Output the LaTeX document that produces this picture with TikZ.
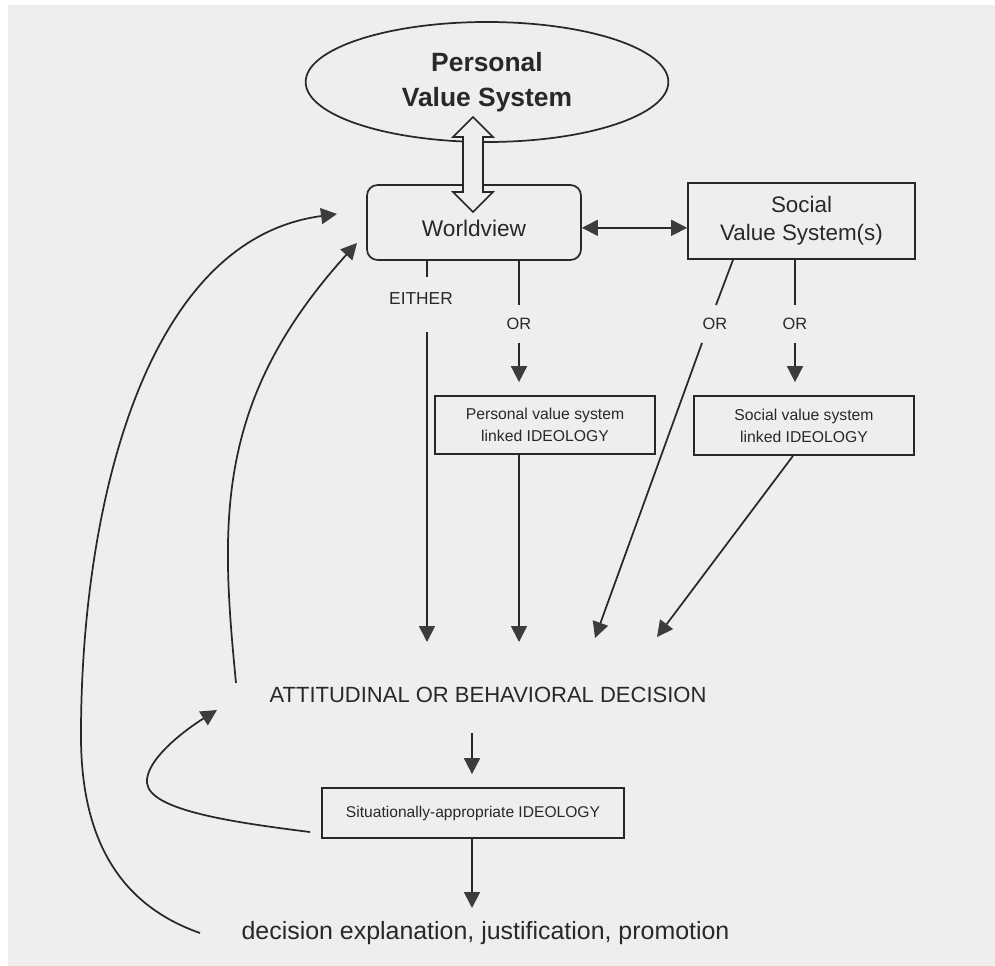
\documentclass[tikz,border=0pt]{standalone}
\usepackage{fontspec}
\setmainfont{Liberation Sans}
\usetikzlibrary{shapes.geometric,arrows.meta}
\definecolor{bg}{RGB}{238,238,238}
\definecolor{ink}{RGB}{40,40,40}
\definecolor{tipc}{RGB}{60,60,60}
\begin{document}
\begin{tikzpicture}[x=0.75pt,y=-0.75pt,
  conn/.style={draw=ink, line width=1.3pt},
  arr/.style={conn, -{Triangle[length=12pt,width=12pt,color=tipc,fill=tipc]}},
  darr/.style={conn, {Triangle[length=12pt,width=12pt,color=tipc,fill=tipc]}-{Triangle[length=12pt,width=12pt,color=tipc,fill=tipc]}},
  box/.style={draw=ink, line width=1.3pt, inner sep=0pt, align=center, text=ink},
  lbl/.style={inner sep=0pt, text=ink, align=center},
  orlbl/.style={lbl, font=\fontsize{12.3}{14}\selectfont, minimum height=27.75pt}]
\useasboundingbox (0,0) rectangle (995,966);
\fill[white] (0,0) rectangle (995,966);
\fill[bg] (8,5) rectangle (995,966);

% nodes
\node[ellipse, draw=ink, line width=1.3pt, minimum width=272pt, minimum height=90pt,
      inner sep=0pt, align=center, text=ink,
      font=\fontsize{19.8}{26}\selectfont\bfseries] (pvs) at (487,82) {Personal\\Value System};
\node[box, rounded corners=8pt, minimum width=160.5pt, minimum height=56.25pt,
      text height=20.5pt, text depth=0pt,
      font=\fontsize{17}{20}\selectfont] (wv) at (474,222.5) {Worldview};
\node[box, minimum width=170.25pt, minimum height=57pt,
      font=\fontsize{16.8}{21}\selectfont] (soc) at (801.5,221) {Social\\Value System(s)};
\node[box, minimum width=165pt, minimum height=43.5pt,
      font=\fontsize{11.8}{16.5}\selectfont] (pv) at (545,425) {Personal value system\\linked IDEOLOGY};
\node[box, minimum width=165pt, minimum height=44.25pt,
      font=\fontsize{11.8}{16.5}\selectfont] (sv) at (804,425.5) {Social value system\\linked IDEOLOGY};
\node[box, minimum width=226.5pt, minimum height=37.5pt,
      font=\fontsize{11.7}{14}\selectfont] (sit) at (473,813) {Situationally-appropriate IDEOLOGY};
\node[lbl, font=\fontsize{16.5}{20}\selectfont] (att) at (488,695) {ATTITUDINAL OR BEHAVIORAL DECISION};
\node[lbl, font=\fontsize{18.7}{22}\selectfont] (dec) at (485.5,933) {decision explanation, justification, promotion};
\node[lbl, font=\fontsize{13}{15}\selectfont] (either) at (421,299) {EITHER};
\node[orlbl] (or1) at (519,324) {OR};
\node[orlbl] (or2) at (795,324) {OR};
\node[orlbl] (or3) at (715,324) {OR};

% hollow double arrow between Personal Value System and Worldview
\filldraw[fill=bg, draw=ink, line width=1.2pt]
  (473,117) -- (493,137) -- (483,137) -- (483,192) -- (493,192) -- (473,212)
  -- (453,192) -- (463,192) -- (463,137) -- (453,137) -- cycle;

% Worldview <-> Social
\draw[darr] ([yshift=-4pt]wv.east) -- ([yshift=-4pt]wv.east -| soc.west);

% EITHER path
\coordinate (e1) at (427,277);
\coordinate (e2) at (427,332);
\coordinate (e3) at (427,642);
\draw[conn] (wv.south -| e1) -- (e1);
\draw[arr] (e2) -- (e3);

% OR (personal)
\draw[conn] (wv.south -| or1) -- (or1.north);
\draw[arr, shorten >=9.75pt] (or1.south) -- (pv.north -| or1);
\coordinate (t2) at (519,642);
\draw[arr] (pv.south -| t2) -- (t2);

% OR (social, vertical)
\draw[conn] (soc.south -| or2) -- (or2.north);
\draw[arr, shorten >=9.75pt] (or2.south) -- (sv.north -| or2);

% OR (social, diagonal)
\coordinate (d1) at (733,259);
\coordinate (d2) at (716,305);
\coordinate (d3) at (702,343);
\coordinate (d4) at (595,638);
\draw[conn] (soc.south -| d1) -- (d2);
\draw[arr] (d3) -- (d4);

% social ideology to decision
\coordinate (s1) at (793,455);
\coordinate (s2) at (657,637);
\draw[arr] (sv.south -| s1) -- (s2);

% decision -> situational -> explanation
\coordinate (a1) at (472,733);
\draw[arr, shorten >=9.75pt] (a1) -- (sit.north -| a1);
\coordinate (b1) at (472,908);
\draw[arr] (sit.south -| b1) -- (b1);

% feedback curves
\coordinate (c1s) at (200,933);
\coordinate (c1m) at (81,740);
\coordinate (c1e) at (337,214);
\draw[arr] (c1s) .. controls (120,905) and (82,840) .. (c1m)
                 .. controls (80,520) and (140,240) .. (c1e);
\coordinate (c2s) at (236,683);
\coordinate (c2e) at (357,243);
\draw[arr] (c2s) .. controls (220,520) and (215,400) .. (c2e);
\coordinate (c3s) at (310,832);
\coordinate (c3m) at (147,783);
\coordinate (c3e) at (217,710);
\draw[arr] (c3s) .. controls (230,822) and (150,810) .. (c3m)
                 .. controls (145,760) and (185,730) .. (c3e);
\end{tikzpicture}
\end{document}
